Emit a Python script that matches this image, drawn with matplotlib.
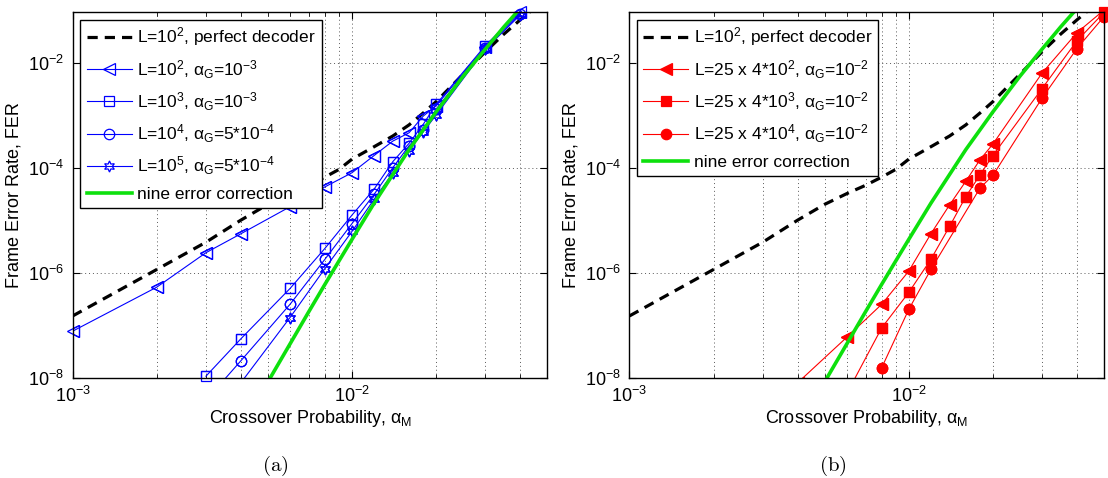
import matplotlib
matplotlib.use('Agg')

import matplotlib.pyplot as plt
from matplotlib.ticker import NullLocator, LogLocator
import numpy as np

plt.rcParams['font.family'] = ['Liberation Sans', 'DejaVu Sans']
plt.rcParams['mathtext.fontset'] = 'custom'
plt.rcParams['mathtext.rm'] = 'Liberation Sans'
plt.rcParams['mathtext.it'] = 'Liberation Sans'
plt.rcParams['mathtext.bf'] = 'Liberation Sans:bold'

# L=10^2, perfect decoder (same curve in both panels)
pd_x = [0.001, 0.002, 0.003, 0.004, 0.005, 0.006, 0.007, 0.008, 0.009, 0.01,
        0.012, 0.014, 0.016, 0.018, 0.02, 0.025, 0.03, 0.035, 0.04, 0.045]
pd_y = [1.5e-7, 1.15e-6, 3.8e-6, 1.0e-5, 2.0e-5, 3.2e-5, 4.6e-5, 6.6e-5, 9.3e-5, 1.45e-4,
        2.5e-4, 4.0e-4, 6.5e-4, 1.1e-3, 1.8e-3, 6.0e-3, 0.016, 0.035, 0.065, 0.11]

# nine error correction
nine_x = [0.0051, 0.006, 0.007, 0.008, 0.009, 0.01, 0.012, 0.014, 0.016,
          0.02, 0.025, 0.03, 0.035, 0.04]
nine_y = [1e-8, 4.4e-8, 1.8e-7, 6.0e-7, 1.7e-6, 4.3e-6, 2.1e-5, 7.4e-5, 2.2e-4,
          1.15e-3, 5.5e-3, 0.018, 0.048, 0.107]

# panel (a)
a_tri_x = [0.001, 0.002, 0.003, 0.004, 0.006, 0.008, 0.01, 0.012, 0.014, 0.016, 0.018, 0.02, 0.03, 0.04]
a_tri_y = [7.7e-8, 5.3e-7, 2.4e-6, 5.5e-6, 1.8e-5, 4.3e-5, 8e-5, 1.7e-4, 3.2e-4, 4.6e-4, 9.6e-4, 1.5e-3, 0.02, 0.09]
a_sq_x = [0.003, 0.004, 0.006, 0.008, 0.01, 0.012, 0.014, 0.016, 0.018, 0.02, 0.03, 0.04]
a_sq_y = [1.07e-8, 5.5e-8, 5.0e-7, 2.9e-6, 1.25e-5, 3.9e-5, 1.3e-4, 2.9e-4, 6.7e-4, 1.6e-3, 0.021, 0.096]
a_ci_x = [0.003, 0.004, 0.006, 0.008, 0.01, 0.012, 0.014, 0.016, 0.018, 0.02, 0.03, 0.04]
a_ci_y = [3.7e-9, 2.1e-8, 2.5e-7, 1.8e-6, 8.6e-6, 3.1e-5, 1.0e-4, 2.6e-4, 5.1e-4, 1.3e-3, 0.019, 0.085]
a_st_x = [0.004, 0.006, 0.008, 0.01, 0.012, 0.014, 0.016, 0.018, 0.02, 0.03, 0.04]
a_st_y = [8e-9, 1.4e-7, 1.2e-6, 6.1e-6, 2.5e-5, 7.9e-5, 2.1e-4, 4.8e-4, 1.0e-3, 0.018, 0.08]
a_labels = [r'L=$10^2$, perfect decoder',
            r'L=$10^2$, $\alpha_G$=$10^{-3}$',
            r'L=$10^3$, $\alpha_G$=$10^{-3}$',
            r'L=$10^4$, $\alpha_G$=5*$10^{-4}$',
            r'L=$10^5$, $\alpha_G$=5*$10^{-4}$',
            'nine error correction']

# panel (b)
b_tri_x = [0.004, 0.006, 0.008, 0.01, 0.012, 0.014, 0.016, 0.018, 0.02, 0.03, 0.04, 0.05]
b_tri_y = [8e-9, 5.9e-8, 2.5e-7, 1.07e-6, 5.5e-6, 1.95e-5, 5.5e-5, 1.42e-4, 2.8e-4, 6.3e-3, 0.037, 0.1]
b_sq_x = [0.006, 0.008, 0.01, 0.012, 0.014, 0.016, 0.018, 0.02, 0.03, 0.04, 0.05]
b_sq_y = [5e-9, 8.9e-8, 4.2e-7, 1.8e-6, 7.6e-6, 2.8e-5, 7.3e-5, 1.7e-4, 3.2e-3, 0.026, 0.09]
b_ci_x = [0.008, 0.01, 0.012, 0.018, 0.02, 0.03, 0.04, 0.05]
b_ci_y = [1.55e-8, 2.0e-7, 1.15e-6, 4.1e-5, 7.1e-5, 2.1e-3, 0.0185, 0.075]
b_labels = [r'L=$10^2$, perfect decoder',
            r'L=25 x 4*$10^2$, $\alpha_G$=$10^{-2}$',
            r'L=25 x 4*$10^3$, $\alpha_G$=$10^{-2}$',
            r'L=25 x 4*$10^4$, $\alpha_G$=$10^{-2}$',
            'nine error correction']

XLIM = (1e-3, 5e-2)
YLIM = (1e-8, 0.093)
blue = (0, 0, 1)
red = (1, 0, 0)
green = (0.05, 0.88, 0.05)
hexagram = (6, 1, 0)


def series(ax, x, y, color, marker, filled, label, ms):
    x = np.asarray(x)
    y = np.asarray(y)
    fc = color if filled else 'none'
    h, = ax.plot(x, y, '-', color=color, lw=0.8, marker=marker, ms=ms,
                 mfc=fc, mec=color, mew=0.9, label=label)
    # markers inside the axes are not clipped at the border (like MATLAB)
    m = (y >= YLIM[0]) & (y <= YLIM[1]) & (x >= XLIM[0]) & (x <= XLIM[1])
    ax.plot(x[m], y[m], ls='none', marker=marker, ms=ms, mfc=fc, mec=color,
            mew=0.9, clip_on=False)
    return h


def style(ax):
    ax.set_xscale('log')
    ax.set_yscale('log')
    ax.set_xlim(XLIM)
    ax.set_ylim(YLIM)
    ax.set_yticks([1e-8, 1e-6, 1e-4, 1e-2])
    ax.yaxis.set_minor_locator(NullLocator())
    ax.xaxis.set_major_locator(LogLocator(base=10))
    ax.xaxis.set_minor_locator(LogLocator(base=10, subs=np.arange(2, 10)))
    ax.grid(True, which='major', ls=(0, (1, 3)), color='0.35', lw=0.7)
    ax.grid(True, which='minor', axis='x', ls=(0, (1, 3)), color='0.35', lw=0.7)
    ax.tick_params(which='both', direction='in', top=True, right=True, labelsize=13)
    ax.tick_params(which='major', length=5, width=0.8, pad=6)
    ax.tick_params(which='minor', length=3, width=0.6)
    for sp in ax.spines.values():
        sp.set_linewidth(1.0)
    ax.set_xlabel(r'Crossover Probability, $\alpha_M$', fontsize=13, labelpad=1)
    ax.set_ylabel('Frame Error Rate, FER', fontsize=13, labelpad=4)


fig = plt.figure(figsize=(11.08, 4.78), dpi=100)
ax1 = fig.add_axes([0.0656, 0.2098, 0.4283, 0.7657])
ax2 = fig.add_axes([0.5681, 0.2098, 0.4283, 0.7657])

# (a)
h0, = ax1.plot(pd_x, pd_y, color='k', ls=(0, (3.2, 2.2)), lw=2.3, label=a_labels[0])
h1 = series(ax1, a_tri_x, a_tri_y, blue, '<', False, a_labels[1], 8)
h2 = series(ax1, a_sq_x, a_sq_y, blue, 's', False, a_labels[2], 7)
h3 = series(ax1, a_ci_x, a_ci_y, blue, 'o', False, a_labels[3], 7.5)
h4 = series(ax1, a_st_x, a_st_y, blue, hexagram, False, a_labels[4], 8)
h5, = ax1.plot(nine_x, nine_y, color=green, lw=2.6, label=a_labels[5])
style(ax1)
leg = ax1.legend([h0, h1, h2, h3, h4, h5], a_labels, loc='upper left', fontsize=12.5,
                 frameon=True, fancybox=False, edgecolor='k', framealpha=1,
                 handlelength=2.6, labelspacing=0.55, borderaxespad=0.45,
                 handletextpad=0.3, borderpad=0.35)
leg.get_frame().set_linewidth(1.0)

# (b)
g0, = ax2.plot(pd_x, pd_y, color='k', ls=(0, (3.2, 2.2)), lw=2.3, label=b_labels[0])
g1 = series(ax2, b_tri_x, b_tri_y, red, '<', True, b_labels[1], 8)
g2 = series(ax2, b_sq_x, b_sq_y, red, 's', True, b_labels[2], 6.5)
g3 = series(ax2, b_ci_x, b_ci_y, red, 'o', True, b_labels[3], 7.5)
g4, = ax2.plot(nine_x, nine_y, color=green, lw=2.6, label=b_labels[4])
style(ax2)
leg = ax2.legend([g0, g1, g2, g3, g4], b_labels, loc='upper left', fontsize=12.5,
                 frameon=True, fancybox=False, edgecolor='k', framealpha=1,
                 handlelength=2.6, labelspacing=0.55, borderaxespad=0.45,
                 handletextpad=0.3, borderpad=0.35)
leg.get_frame().set_linewidth(1.0)

fig.text(275.5 / 1108, 1 - 466 / 478, r'$\mathrm{(a)}$', math_fontfamily='cm',
         fontsize=15, ha='center', va='center')
fig.text(832.5 / 1108, 1 - 466 / 478, r'$\mathrm{(b)}$', math_fontfamily='cm',
         fontsize=15, ha='center', va='center')

fig.savefig('out.png', dpi=100)
